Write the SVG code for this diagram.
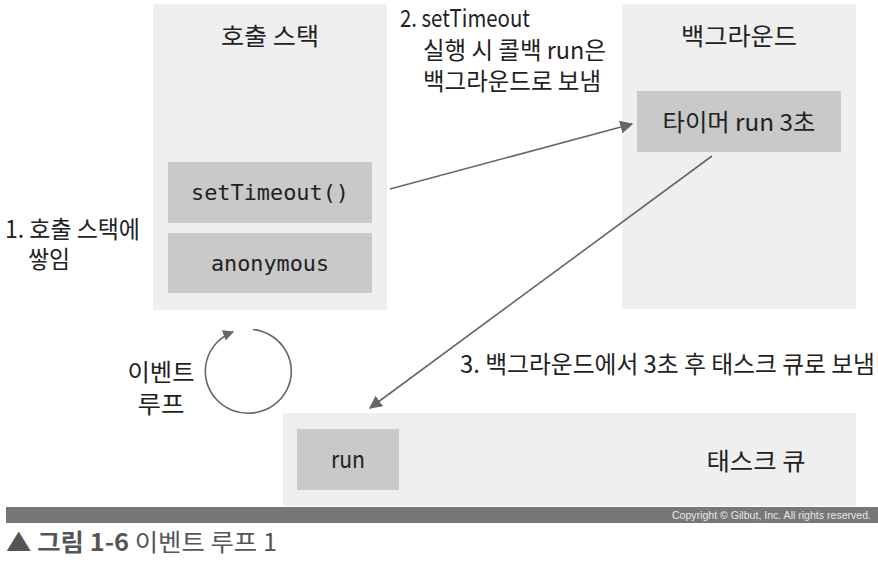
<svg xmlns="http://www.w3.org/2000/svg" width="878" height="580" viewBox="0 0 878 580">
<defs>
<style>
.panel{fill:#efefef}
.box{fill:#c9c9c9}
.ko{font-family:"Noto Sans CJK KR","Noto Sans",sans-serif;fill:#222;font-size:24px}
.mono{font-family:"DejaVu Sans Mono","Liberation Mono",monospace;fill:#222;font-size:21px}
.conn{stroke:#666;stroke-width:1.6;fill:none}
</style>
<marker id="ah" viewBox="0 0 10 10" refX="9" refY="5" markerWidth="11" markerHeight="11" markerUnits="userSpaceOnUse" orient="auto">
<path d="M0,0 L10,5 L0,10 z" fill="#666"/>
</marker>
<marker id="ah2" viewBox="0 0 10 10" refX="9" refY="5" markerWidth="13" markerHeight="13" markerUnits="userSpaceOnUse" orient="auto">
<path d="M0,0 L10,5 L0,10 z" fill="#666"/>
</marker>
</defs>
<rect width="878" height="580" fill="#fff"/>

<g id="callstack">
<rect class="panel" x="153" y="4" width="234" height="306"/>
<text class="ko" x="270" y="45" text-anchor="middle" textLength="98" lengthAdjust="spacingAndGlyphs">호출 스택</text>
</g>
<g id="settimeout">
<rect class="box" x="168" y="162" width="204" height="61"/>
<text class="mono" x="270" y="200" text-anchor="middle" textLength="158" lengthAdjust="spacingAndGlyphs">setTimeout()</text>
</g>
<g id="anonymous">
<rect class="box" x="168" y="233" width="204" height="60"/>
<text class="mono" x="270" y="271" text-anchor="middle" textLength="118" lengthAdjust="spacingAndGlyphs">anonymous</text>
</g>

<g id="background">
<rect class="panel" x="622" y="4" width="234" height="305"/>
<text class="ko" x="739" y="45" text-anchor="middle" textLength="116" lengthAdjust="spacingAndGlyphs">백그라운드</text>
</g>
<g id="timer">
<rect class="box" x="637" y="91" width="204" height="61"/>
<text class="ko" x="739" y="131" text-anchor="middle" textLength="153" lengthAdjust="spacingAndGlyphs">타이머 run 3초</text>
</g>

<g id="taskqueue">
<rect class="panel" x="283" y="413" width="573" height="93"/>
<text class="ko" x="756" y="470" text-anchor="middle" textLength="99" lengthAdjust="spacingAndGlyphs">태스크 큐</text>
</g>
<g id="run">
<rect class="box" x="297" y="429" width="102" height="61"/>
<text class="ko" x="348" y="468" text-anchor="middle" textLength="34" lengthAdjust="spacingAndGlyphs">run</text>
</g>

<g id="labels">
<text class="ko" font-size="19.5"><tspan x="400" y="27" textLength="130" lengthAdjust="spacingAndGlyphs">2. setTimeout</tspan><tspan x="423" y="59" textLength="183" lengthAdjust="spacingAndGlyphs">실행 시 콜백 run은</tspan><tspan x="423" y="90" textLength="178" lengthAdjust="spacingAndGlyphs">백그라운드로 보냄</tspan></text>
<text class="ko" font-size="19.5"><tspan x="5" y="238" textLength="135" lengthAdjust="spacingAndGlyphs">1. 호출 스택에</tspan><tspan x="28" y="268" textLength="42" lengthAdjust="spacingAndGlyphs">쌓임</tspan></text>
<text class="ko" font-size="22" text-anchor="middle"><tspan x="161" y="381" textLength="67" lengthAdjust="spacingAndGlyphs">이벤트</tspan><tspan x="161" y="413" textLength="47" lengthAdjust="spacingAndGlyphs">루프</tspan></text>
<text class="ko" x="460" y="373" font-size="23" textLength="415" lengthAdjust="spacingAndGlyphs">3. 백그라운드에서 3초 후 태스크 큐로 보냄</text>
</g>

<g id="connectors">
<line class="conn" x1="390" y1="189" x2="632" y2="124" marker-end="url(#ah2)"/>
<line class="conn" x1="712" y1="156" x2="370" y2="408" marker-end="url(#ah2)"/>
<path class="conn" d="M253,329.5 A43,42 0 1 1 233,332" marker-end="url(#ah)"/>
</g>

<g id="footer">
<rect x="6" y="507" width="872" height="16" fill="#777"/>
<text x="871" y="519" text-anchor="end" font-family="Liberation Sans, Arial, sans-serif" font-size="10.5" fill="#e8e8e8" textLength="199" lengthAdjust="spacingAndGlyphs">Copyright © Gilbut, Inc. All rights reserved.</text>
<text x="6" y="551" font-family="Noto Sans CJK KR, sans-serif" font-size="24" fill="#555" textLength="271" lengthAdjust="spacingAndGlyphs"><tspan font-weight="bold">▲ 그림 1-6</tspan> 이벤트 루프 1</text>
</g>
</svg>
